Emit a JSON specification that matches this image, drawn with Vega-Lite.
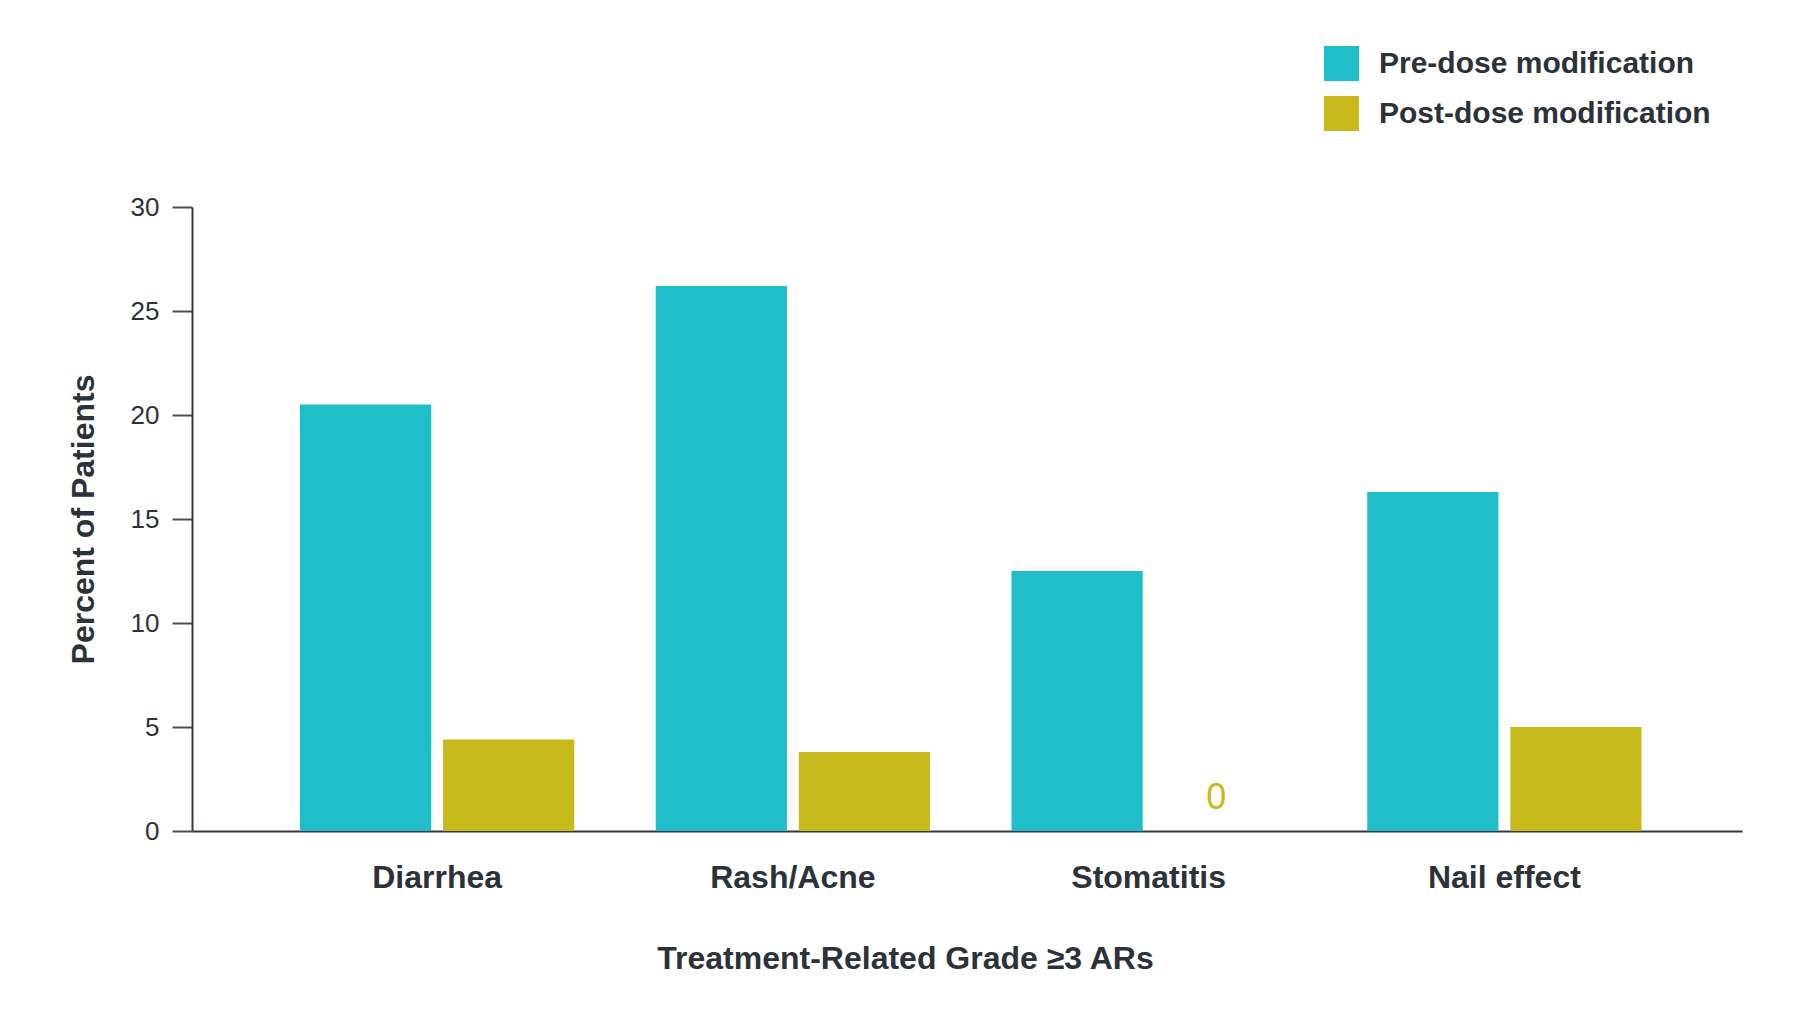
{
  "$schema": "https://vega.github.io/schema/vega-lite/v6.json",
  "autosize": "none",
  "padding": {"left": 192, "top": 207, "right": 66, "bottom": 185},
  "width": 1550,
  "height": 624,
  "background": "white",
  "config": {
    "view": {"stroke": null},
    "font": "Liberation Sans"
  },
  "data": {
    "values": [
      {"ar": "Diarrhea", "phase": "Pre-dose modification", "pct": 20.5},
      {"ar": "Diarrhea", "phase": "Post-dose modification", "pct": 4.4},
      {"ar": "Rash/Acne", "phase": "Pre-dose modification", "pct": 26.2},
      {"ar": "Rash/Acne", "phase": "Post-dose modification", "pct": 3.8},
      {"ar": "Stomatitis", "phase": "Pre-dose modification", "pct": 12.5},
      {"ar": "Stomatitis", "phase": "Post-dose modification", "pct": 0},
      {"ar": "Nail effect", "phase": "Pre-dose modification", "pct": 16.3},
      {"ar": "Nail effect", "phase": "Post-dose modification", "pct": 5.0}
    ]
  },
  "encoding": {
    "x": {
      "field": "ar",
      "type": "nominal",
      "sort": ["Diarrhea", "Rash/Acne", "Stomatitis", "Nail effect"],
      "scale": {"paddingInner": 0.229, "paddingOuter": 0.293, "align": 0.518},
      "axis": {
        "title": "Treatment-Related Grade ≥3 ARs",
        "labelAngle": 0,
        "ticks": false,
        "tickSize": 0,
        "labelPadding": 31,
        "labelFontSize": 32,
        "labelFontWeight": "bold",
        "labelColor": "#2c323a",
        "domainColor": "#333a44",
        "domainWidth": 2,
        "titleFontSize": 32,
        "titleFontWeight": "bold",
        "titleColor": "#2c323a",
        "titleX": 713,
        "titleY": 127,
        "titleBaseline": "middle"
      }
    },
    "xOffset": {
      "field": "phase",
      "sort": ["Pre-dose modification", "Post-dose modification"],
      "scale": {"paddingInner": 0.083}
    },
    "y": {
      "field": "pct",
      "type": "quantitative",
      "scale": {"domain": [0, 30], "nice": false},
      "axis": {
        "title": "Percent of Patients",
        "values": [0, 5, 10, 15, 20, 25, 30],
        "grid": false,
        "tickSize": 20,
        "tickColor": "#4a4f57",
        "tickWidth": 2,
        "domainColor": "#333a44",
        "domainWidth": 2,
        "labelPadding": 13,
        "labelFontSize": 26,
        "labelColor": "#2c323a",
        "titleFontSize": 32,
        "titleFontWeight": "bold",
        "titleColor": "#2c323a",
        "titleX": -109,
        "titleY": 312,
        "titleAngle": 270,
        "titleBaseline": "middle"
      }
    }
  },
  "layer": [
    {
      "mark": {"type": "bar"},
      "encoding": {
        "color": {
          "field": "phase",
          "type": "nominal",
          "scale": {
            "domain": ["Pre-dose modification", "Post-dose modification"],
            "range": ["#20bec9", "#c8ba1a"]
          },
          "legend": {
            "title": null,
            "orient": "none",
            "legendX": 1132,
            "legendY": -161,
            "symbolType": "square",
            "symbolSize": 1225,
            "symbolStrokeWidth": 0,
            "labelFontSize": 30,
            "labelFontWeight": "bold",
            "labelColor": "#2c323a",
            "labelOffset": 20,
            "labelLimit": 0,
            "labelBaseline": "middle",
            "rowPadding": 15,
            "padding": 0
          }
        }
      }
    },
    {
      "transform": [{"filter": "datum.pct === 0"}],
      "mark": {
        "type": "text",
        "fontSize": 36,
        "color": "#c8ba1a",
        "baseline": "middle",
        "dy": -33,
        "dx": -4
      },
      "encoding": {
        "text": {"field": "pct", "type": "quantitative"}
      }
    }
  ]
}
